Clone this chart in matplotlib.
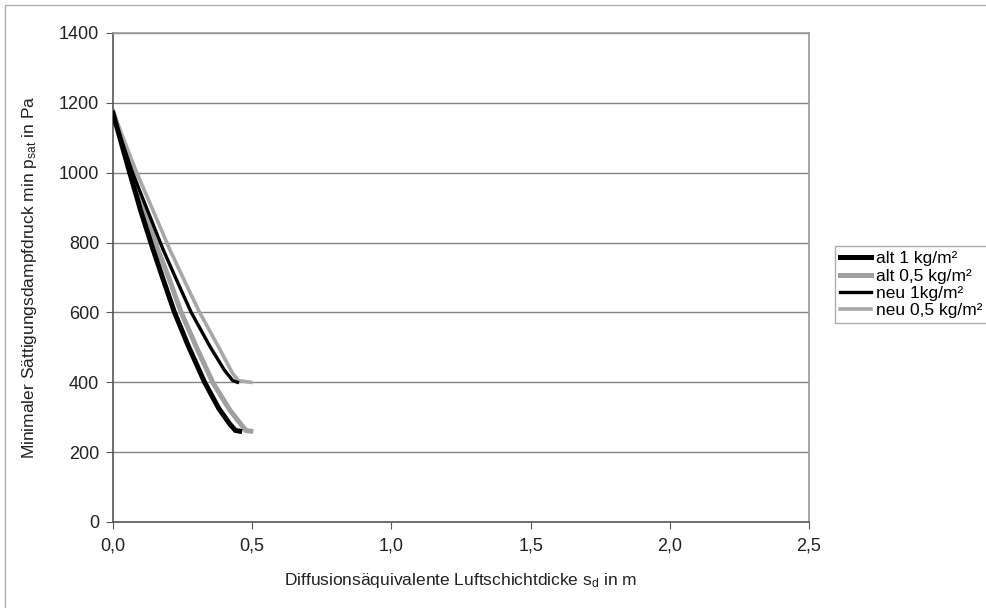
import matplotlib.pyplot as plt
from matplotlib.patches import Rectangle
from matplotlib.ticker import FuncFormatter

plt.rcParams['font.family'] = ['Liberation Sans', 'DejaVu Sans']
plt.rcParams['mathtext.fontset'] = 'custom'
plt.rcParams['mathtext.rm'] = 'Liberation Sans'
plt.rcParams['mathtext.it'] = 'Liberation Sans'

# data (s_d in m, p_sat in Pa)
alt1_x = [0.0, 0.06, 0.10, 0.144, 0.18, 0.221, 0.27, 0.329, 0.38, 0.42, 0.44, 0.455]
alt1_y = [1170, 1000, 890, 780, 695, 600, 505, 400, 325, 280, 262, 260]
alt05_x = [0.0, 0.07, 0.115, 0.161, 0.20, 0.245, 0.30, 0.358, 0.42, 0.477, 0.495]
alt05_y = [1175, 1000, 890, 780, 700, 600, 500, 400, 320, 262, 260]
neu1_x = [0.0, 0.07, 0.125, 0.18, 0.23, 0.281, 0.35, 0.40, 0.43, 0.447]
neu1_y = [1165, 1000, 890, 780, 690, 600, 500, 435, 405, 400]
neu05_x = [0.0, 0.085, 0.145, 0.204, 0.26, 0.311, 0.38, 0.43, 0.45, 0.495]
neu05_y = [1175, 1000, 890, 780, 685, 600, 500, 425, 405, 400]

labels = ['alt 1 kg/m²', 'alt 0,5 kg/m²', 'neu 1kg/m²', 'neu 0,5 kg/m²']

fig = plt.figure(figsize=(9.87, 6.08), dpi=100)
ax = fig.add_axes([113/987, 1-522/608, (809-113)/987, (522-33)/608])

# outer chart border (cropped on the right and bottom in the original)
fig.patches.append(Rectangle((5/987, -0.05), 1.1, 1.05 - 5/608, transform=fig.transFigure,
                             fill=False, edgecolor='#b0b0b0', lw=1))

for v in range(200, 1401, 200):
    ax.axhline(v, color='#858585', lw=1, zorder=1)

l1, = ax.plot(alt1_x, alt1_y, color='black', lw=3.6, solid_joinstyle='round', zorder=3)
l2, = ax.plot(alt05_x, alt05_y, color='#a0a0a0', lw=3.6, solid_joinstyle='round', zorder=2)
l3, = ax.plot(neu1_x, neu1_y, color='black', lw=2.4, solid_joinstyle='round', zorder=3)
l4, = ax.plot(neu05_x, neu05_y, color='#a8a8a8', lw=2.6, solid_joinstyle='round', zorder=2)

ax.set_xlim(0, 2.5)
ax.set_ylim(0, 1400)
ax.set_xticks([0, 0.5, 1.0, 1.5, 2.0, 2.5])
ax.set_yticks(range(0, 1401, 200))
ax.xaxis.set_major_formatter(FuncFormatter(lambda v, p: ('%.1f' % v).replace('.', ',')))

for s in ['left', 'bottom']:
    ax.spines[s].set_color('#555555')
    ax.spines[s].set_linewidth(1.2)
for s in ['top', 'right']:
    ax.spines[s].set_color('#999999')
    ax.spines[s].set_linewidth(1.2)

ax.tick_params(axis='both', direction='out', colors='#555555', labelcolor='#222222',
               labelsize=13, length=5)
ax.tick_params(axis='x', pad=6)
ax.tick_params(axis='y', pad=5)

ax.set_xlabel('Diffusionsäquivalente Luftschichtdicke s$_\\mathrm{d}$ in m',
              fontsize=12.5, color='#222222', labelpad=12)
ax.set_ylabel('Minimaler Sättigungsdampfdruck min p$_\\mathrm{sat}$ in Pa',
              fontsize=12.5, color='#222222', labelpad=14)

leg = fig.legend([l1, l2, l3, l4], labels, loc='upper left',
                 bbox_to_anchor=(835/987, 1-246/608), fontsize=12.5,
                 frameon=True, fancybox=False, handlelength=1.75,
                 handletextpad=0.3, borderpad=0.3, labelspacing=0.12,
                 borderaxespad=0)
leg.get_frame().set_edgecolor('#999999')
leg.get_frame().set_linewidth(1)

fig.savefig('out.png', dpi=100)
